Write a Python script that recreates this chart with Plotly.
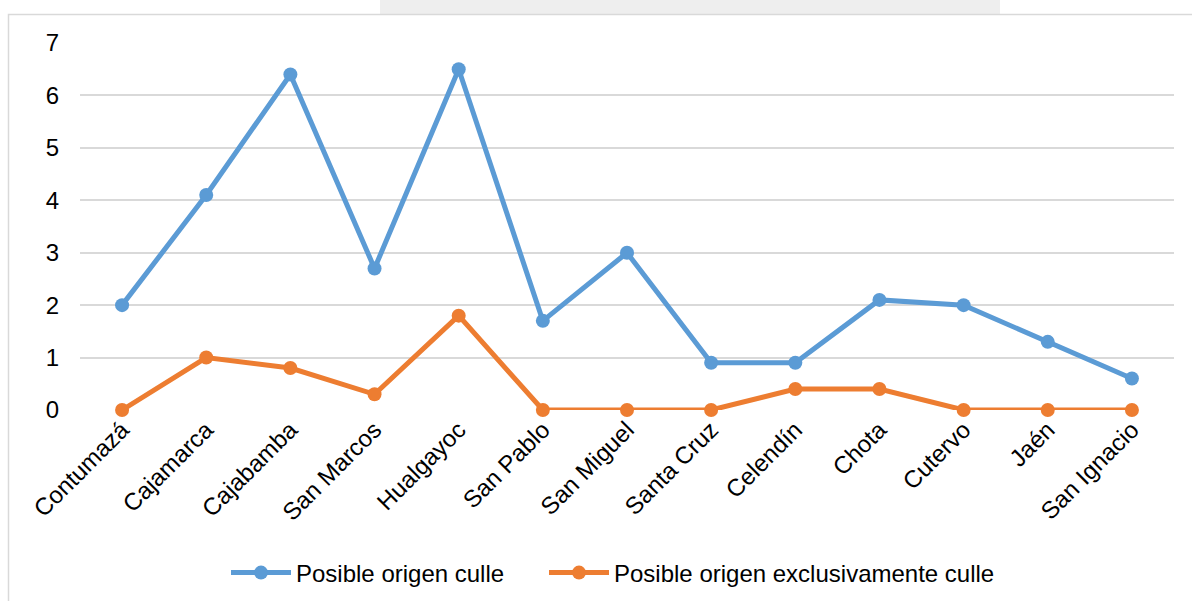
import plotly.graph_objects as go

provincias = ["Contumazá", "Cajamarca", "Cajabamba", "San Marcos", "Hualgayoc",
              "San Pablo", "San Miguel", "Santa Cruz", "Celendín", "Chota",
              "Cutervo", "Jaén", "San Ignacio"]
origen_culle = [2.0, 4.1, 6.4, 2.7, 6.5, 1.7, 3.0, 0.9, 0.9, 2.1, 2.0, 1.3, 0.6]
origen_exclusivo = [0.0, 1.0, 0.8, 0.3, 1.8, 0.0, 0.0, 0.0, 0.4, 0.4, 0.0, 0.0, 0.0]
y_ticks = [0, 1, 2, 3, 4, 5, 6, 7]

W, H = 1192, 601
ML, MR, MT, MB = 80, 18, 43, 191
FONT = "Liberation Sans, Arial, sans-serif"
FS = 24

fig = go.Figure()
fig.add_trace(go.Scatter(
    x=provincias, y=origen_culle, mode="lines+markers",
    name="Posible origen culle", cliponaxis=False, legend="legend",
    line=dict(color="#5B9BD5", width=5),
    marker=dict(color="#5B9BD5", size=14),
))
fig.add_trace(go.Scatter(
    x=provincias, y=origen_exclusivo, mode="lines+markers",
    name="Posible origen exclusivamente culle", cliponaxis=False, legend="legend2",
    line=dict(color="#ED7D31", width=5),
    marker=dict(color="#ED7D31", size=14),
))

# helpers converting page pixels to paper coordinates
pw, ph = W - ML - MR, H - MT - MB
def px_x(v):
    return (v - ML) / pw
def px_y(v):
    return (H - MB - v) / ph

# faint background band above the frame
fig.add_shape(type="rect", xref="paper", yref="paper", layer="below",
              x0=px_x(380), x1=px_x(1000), y0=px_y(0), y1=px_y(14),
              line=dict(width=0), fillcolor="#eeeeee")
# chart frame
fig.add_shape(type="rect", xref="paper", yref="paper", layer="below",
              x0=px_x(8.5), x1=px_x(1195), y0=px_y(14.5), y1=px_y(610),
              line=dict(color="#d9d9d9", width=1.5), fillcolor="white")

legend_common = dict(orientation="h", xanchor="left", yanchor="middle",
                     font=dict(size=FS), itemwidth=60, bgcolor="rgba(0,0,0,0)")

fig.update_layout(
    width=W, height=H,
    margin=dict(l=ML, r=MR, t=MT, b=MB, autoexpand=False),
    paper_bgcolor="white", plot_bgcolor="rgba(0,0,0,0)",
    font=dict(family=FONT, size=FS, color="#000000"),
    showlegend=True,
    legend=dict(x=px_x(226), y=px_y(573), **legend_common),
    legend2=dict(x=px_x(544), y=px_y(573), **legend_common),
    xaxis=dict(type="category", tickangle=-45, showgrid=False, showline=False,
               ticks="", zeroline=False, tickfont=dict(size=FS), automargin=False,
               range=[-0.5, len(provincias) - 0.5]),
    yaxis=dict(range=[0, 7], tickvals=y_ticks, showgrid=True, gridcolor="#d9d9d9",
               gridwidth=1.5, zeroline=False, showline=False, ticks="", automargin=False,
               ticklabelstandoff=20, tickfont=dict(size=FS)),
)

fig.write_html("out.html")
